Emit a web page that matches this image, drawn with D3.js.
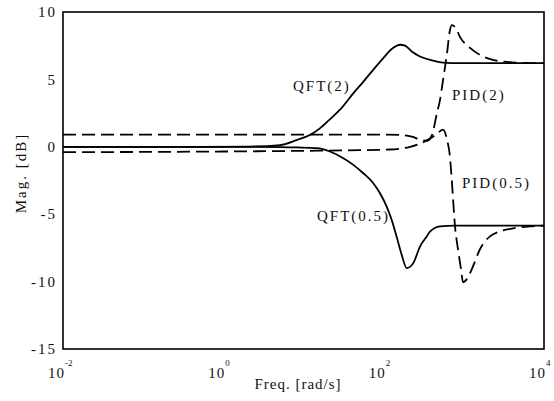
<!DOCTYPE html>
<html><head><meta charset="utf-8">
<script src="https://cdn.jsdelivr.net/npm/d3@7"></script>
<style>
html,body{margin:0;padding:0;background:#fff;}
svg{display:block;}
text{font-family:"Liberation Serif","DejaVu Serif",serif;fill:#111;}
</style></head>
<body>
<svg id="chart" width="554" height="401"></svg>
<script>
// ---- data (frequency in rad/s, magnitude in dB) ----
const qft2Freq = [0.01, 0.5, 2.1, 5.1, 8.2, 12, 16, 21, 28.5, 42, 56, 74, 99, 126, 160, 185, 224, 284, 412, 550, 895, 10000];
const qft2Mag  = [0, 0, 0.02, 0.13, 0.5, 0.87, 1.37, 2.0, 2.75, 3.98, 4.84, 5.71, 6.58, 7.25, 7.57, 7.5, 7.07, 6.7, 6.4, 6.25, 6.2, 6.2];

const qft05Freq = [0.01, 0.5, 2.1, 5.1, 8.2, 14.6, 21.4, 31.4, 41.8, 55.7, 74.3, 90, 109, 126, 145, 168, 194, 234, 284, 344, 378, 505, 776, 10000];
const qft05Mag  = [0, 0, -0.01, -0.02, -0.05, -0.1, -0.35, -0.85, -1.34, -1.96, -2.7, -3.45, -4.44, -5.43, -6.66, -8.02, -9.0, -8.63, -7.4, -6.66, -6.3, -5.9, -5.85, -5.85];

const pid2Freq = [0.01, 1, 10, 100, 160, 224, 300, 350, 401, 462, 504, 550, 617, 671, 711, 794, 895, 1194, 1589, 2312, 3451, 5012, 10000];
const pid2Mag  = [0.9, 0.9, 0.9, 0.9, 0.88, 0.75, 0.5, 0.45, 0.88, 2.5, 3.46, 4.94, 6.94, 8.65, 9.02, 8.8, 8.15, 7.34, 6.82, 6.45, 6.3, 6.23, 6.2];

const pid05Freq = [0.01, 1, 10, 50, 120, 214, 327, 450, 550, 617, 671, 711, 776, 845, 923, 977, 1096, 1300, 1589, 2118, 2825, 4102, 6683, 10000];
const pid05Mag  = [-0.4, -0.35, -0.3, -0.25, -0.2, 0.0, 0.4, 0.9, 1.27, 0.53, -0.73, -2.66, -5.9, -7.6, -9.1, -10.05, -9.8, -8.87, -7.6, -6.64, -6.27, -6.05, -5.9, -5.85];

const yTicks = [10, 5, 0, -5, -10, -15];
const xTickExps = [-2, 0, 2, 4];
const seriesNames = ["QFT(2)", "PID(2)", "PID(0.5)", "QFT(0.5)"];
const xTitle = "Freq. [rad/s]";
const yTitle = "Mag. [dB]";

// ---- layout ----
const L = 63, R = 544, T = 12, B = 349;
const svg = d3.select("#chart");
const x = d3.scaleLog().domain([1e-2, 1e4]).range([L, R]);
const y = d3.scaleLinear().domain([-15, 10]).range([B, T]);

const line = d3.line().x(d => x(d[0])).y(d => y(d[1])).curve(d3.curveMonotoneX);
const zip = (a, b) => a.map((v, i) => [v, b[i]]);

const series = [
  {f: qft2Freq, m: qft2Mag, dash: null},
  {f: qft05Freq, m: qft05Mag, dash: null},
  {f: pid2Freq, m: pid2Mag, dash: "13,6"},
  {f: pid05Freq, m: pid05Mag, dash: "13,6"}
];

const plot = svg.append("g");
series.forEach(s => {
  plot.append("path")
    .datum(zip(s.f, s.m))
    .attr("d", line)
    .attr("fill", "none")
    .attr("stroke", "#000")
    .attr("stroke-width", 1.8)
    .attr("stroke-linejoin", "round")
    .attr("stroke-dasharray", s.dash);
});

// frame
svg.append("rect").attr("x", L).attr("y", T).attr("width", R - L).attr("height", B - T)
  .attr("fill", "none").attr("stroke", "#000").attr("stroke-width", 1.6);

// y tick labels
svg.append("g").selectAll("text").data(yTicks).join("text")
  .attr("x", 57).attr("y", d => y(d)).attr("dy", "0.35em")
  .attr("text-anchor", "end")
  .style("font-size", "15px").style("letter-spacing", "2px")
  .text(d => d);

// x tick labels
const xl = svg.append("g").selectAll("text").data(xTickExps).join("text")
  .attr("x", d => x(Math.pow(10, d)) + 2).attr("y", 378)
  .attr("text-anchor", "end")
  .style("font-size", "15px").style("letter-spacing", "1px");
xl.append("tspan").text("10");
svg.append("g").selectAll("text").data(xTickExps).join("text")
  .attr("x", d => x(Math.pow(10, d)) + 2).attr("y", 366)
  .style("font-size", "9px")
  .text(d => d);

// axis titles
svg.append("text").attr("x", 298).attr("y", 389).attr("text-anchor", "middle")
  .style("font-size", "15px").style("letter-spacing", "1px").text(xTitle);
svg.append("text").attr("transform", "translate(26,173) rotate(-90)").attr("text-anchor", "middle")
  .style("font-size", "15px").style("letter-spacing", "2px").text(yTitle);

// annotations
const annPos = [[293, 91], [452, 100], [462, 188], [317, 221]];
svg.append("g").selectAll("text").data(seriesNames).join("text")
  .attr("x", (d, i) => annPos[i][0]).attr("y", (d, i) => annPos[i][1])
  .style("font-size", "15px").style("letter-spacing", "2px")
  .text(d => d);
</script>
</body></html>
